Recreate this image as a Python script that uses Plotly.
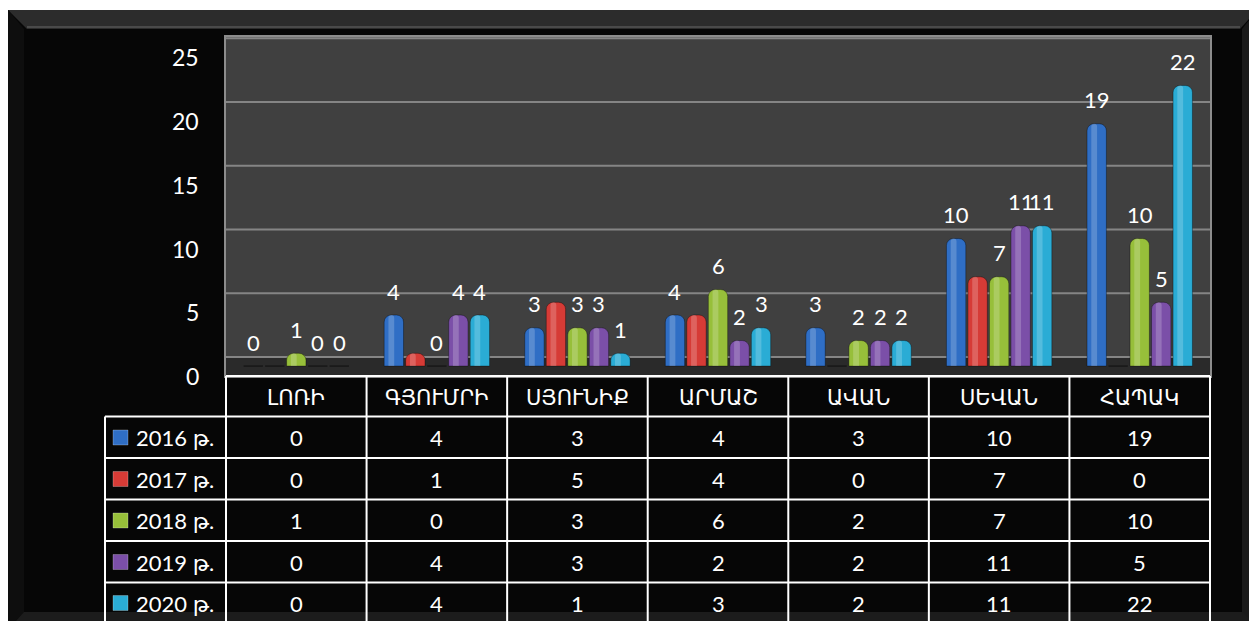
import plotly.graph_objects as go

# ---------------- data ----------------
categories = ["ԼՈՌԻ", "ԳՅՈՒՄՐԻ", "ՍՅՈՒՆԻՔ", "ԱՐՄԱՇ", "ԱՎԱՆ", "ՍԵՎԱՆ", "ՀԱՊԱԿ"]
series_names = ["2016 թ.", "2017 թ.", "2018 թ.", "2019 թ.", "2020 թ."]
v2016 = [0, 4, 3, 4, 3, 10, 19]
v2017 = [0, 1, 5, 4, 0, 7, 0]
v2018 = [1, 0, 3, 6, 2, 7, 10]
v2019 = [0, 4, 3, 2, 2, 11, 5]
v2020 = [0, 4, 1, 3, 2, 11, 22]
series_values = [v2016, v2017, v2018, v2019, v2020]
series_colors = ["#2F6EC5", "#D63B36", "#97BF3A", "#7B4FA8", "#2AACD5"]
show_labels = [True, False, True, True, True]
y_ticks = [0, 5, 10, 15, 20, 25]

# ---------------- geometry / style ----------------
W, H = 1257, 621
OFF = 8  # page body margin
PL, PR, PT, PB = 226, 1210, 37, 376   # plot area in screen pixels
FONT = "Lato, 'DejaVu Sans', sans-serif"
BARGAP = 0.235
BARGROUPGAP = 0.1
Y_RANGE = [-0.78, 25.8]
WALL_DEPTH = 0.71  # back-wall offset of gridlines (y units)


def px(x):
    return (x - PL) / (PR - PL)


def py(y):
    return (PB - y) / (PB - PT)


fig = go.Figure()
nser = len(series_values)
slot = (1 - BARGAP) / nser
bar_w = slot * (1 - BARGROUPGAP)
for k, (name, vals, col) in enumerate(zip(series_names, series_values, series_colors)):
    center = (k - (nser - 1) / 2) * slot
    fig.add_trace(go.Bar(
        x=categories, y=vals, name=name, width=bar_w, offset=center - bar_w / 2,
        marker=dict(color=col, line=dict(width=1, color="rgba(0,0,0,0.35)"), cornerradius=7),
        showlegend=False, hoverinfo="x+y+name",
    ))
    # cylinder highlight strip
    fig.add_trace(go.Bar(
        x=categories, y=vals, width=bar_w * 0.3, offset=center - bar_w * 0.28,
        marker=dict(color="rgba(255,255,255,0.20)", line=dict(width=0), cornerradius=3),
        showlegend=False, hoverinfo="skip",
    ))

shapes = []
# black frame with bevels
shapes.append(dict(type="rect", xref="paper", yref="paper", layer="below",
                   x0=px(8), x1=px(1275), y0=py(10), y1=py(640),
                   fillcolor="#060606", line=dict(width=0)))
shapes.append(dict(type="path", xref="paper", yref="paper", layer="below",
                   path=f"M{px(8)},{py(10)} L{px(1257)},{py(10)} L{px(1240)},{py(29)} L{px(27)},{py(29)} Z",
                   fillcolor="#2c2c2c", line=dict(width=0)))
shapes.append(dict(type="line", xref="paper", yref="paper", layer="below",
                   x0=px(27), x1=px(1240), y0=py(27), y1=py(27),
                   line=dict(color="#4a4a4a", width=2)))
shapes.append(dict(type="path", xref="paper", yref="paper", layer="below",
                   path=f"M{px(8)},{py(10)} L{px(24)},{py(29)} L{px(24)},{py(640)} L{px(8)},{py(640)} Z",
                   fillcolor="#0e0e0e", line=dict(width=0)))
shapes.append(dict(type="path", xref="paper", yref="paper", layer="below",
                   path=f"M{px(1257)},{py(10)} L{px(1242)},{py(29)} L{px(1242)},{py(640)} L{px(1257)},{py(640)} Z",
                   fillcolor="#1a1a1a", line=dict(width=0)))
shapes.append(dict(type="path", xref="paper", yref="paper", layer="below",
                   path=f"M{px(8)},{py(630)} L{px(24)},{py(612)} L{px(1242)},{py(612)} L{px(1260)},{py(630)} Z",
                   fillcolor="#1c1c1c", line=dict(width=0)))
# plot wall
shapes.append(dict(type="rect", xref="paper", yref="paper", layer="below",
                   x0=0, x1=1, y0=0, y1=1, fillcolor="#404040", line=dict(width=0)))
# floor
shapes.append(dict(type="rect", xref="x domain", yref="y", layer="below",
                   x0=0, x1=1, y0=Y_RANGE[0], y1=WALL_DEPTH, fillcolor="#2a2a2a", line=dict(width=0)))
# gridlines on the back wall
for t in y_ticks:
    shapes.append(dict(type="line", xref="x domain", yref="y", layer="below",
                       x0=0, x1=1, y0=t + WALL_DEPTH, y1=t + WALL_DEPTH,
                       line=dict(color="#858585", width=2)))

# ---------------- data table ----------------
TL = 105
row_tops = [376, 416.5, 458, 499.5, 541, 582.5, 630]
LINE = dict(color="#ffffff", width=2)
ncat = len(categories)
shapes.append(dict(type="line", xref="paper", yref="paper", layer="above",
                   x0=0, x1=1, y0=py(row_tops[0]), y1=py(row_tops[0]), line=LINE))
for yy in row_tops[1:-1]:
    shapes.append(dict(type="line", xref="paper", yref="paper", layer="above",
                       x0=px(TL), x1=1, y0=py(yy), y1=py(yy), line=LINE))
shapes.append(dict(type="line", xref="paper", yref="paper", layer="above",
                   x0=px(TL), x1=px(TL), y0=py(row_tops[1]), y1=py(row_tops[-1]), line=LINE))
for i in range(ncat + 1):
    xx = i / ncat
    shapes.append(dict(type="line", xref="paper", yref="paper", layer="above",
                       x0=xx, x1=xx, y0=py(row_tops[0]), y1=py(row_tops[-1]), line=LINE))

annotations = []
# y tick labels (drawn slightly below their gridline like the original)
for t in y_ticks:
    annotations.append(dict(x=px(201), y=t, xref="paper", yref="y", text=str(t),
                            showarrow=False, font=dict(family=FONT, size=23, color="white"),
                            xanchor="right", yanchor="middle", yshift=-10))
hc = (row_tops[0] + row_tops[1]) / 2
for c in categories:
    annotations.append(dict(x=c, y=py(hc), xref="x", yref="paper", text=c,
                            showarrow=False, font=dict(family=FONT, size=21, color="white"),
                            xanchor="center", yanchor="middle"))
row_centers = [437.5, 479, 520.5, 562, 603]
for r, (name, vals, col) in enumerate(zip(series_names, series_values, series_colors)):
    cy = row_centers[r]
    shapes.append(dict(type="rect", xref="paper", yref="paper", layer="above",
                       x0=px(113), x1=px(128), y0=py(cy - 7.5), y1=py(cy + 7.5),
                       fillcolor=col, line=dict(color="rgba(255,255,255,0.25)", width=1)))
    annotations.append(dict(x=px(134), y=py(cy), xref="paper", yref="paper", text=name,
                            showarrow=False, font=dict(family=FONT, size=22, color="white"),
                            xanchor="left", yanchor="middle"))
    for c, v in zip(categories, vals):
        annotations.append(dict(x=c, y=py(cy), xref="x", yref="paper", text=str(v),
                                showarrow=False, font=dict(family=FONT, size=22, color="white"),
                                xanchor="center", yanchor="middle"))

# data labels above bars
for k, (vals, show) in enumerate(zip(series_values, show_labels)):
    if not show:
        continue
    off = (k - (nser - 1) / 2) * slot
    for i, v in enumerate(vals):
        annotations.append(dict(x=i + off, y=v, xref="x", yref="y", text=str(v),
                                showarrow=False, font=dict(family=FONT, size=22, color="white"),
                                xanchor="center", yanchor="middle", yshift=24))

fig.update_layout(
    width=W, height=H, autosize=False,
    margin=dict(l=PL - OFF, r=W - (PR - OFF), t=PT - OFF, b=H - (PB - OFF), pad=0),
    paper_bgcolor="white", plot_bgcolor="#404040",
    barmode="overlay",
    font=dict(family=FONT, color="white"),
    xaxis=dict(type="category", range=[-0.5, ncat - 0.5], showticklabels=False,
               showgrid=False, zeroline=False, ticks="", showline=True,
               linecolor="#8c8c8c", linewidth=2, mirror=True),
    yaxis=dict(range=Y_RANGE, tickvals=y_ticks, showticklabels=False, showgrid=False,
               zeroline=False, ticks="",
               showline=True, linecolor="#8c8c8c", linewidth=2, mirror=True),
    shapes=shapes, annotations=annotations,
)

fig.write_html("out.html")
